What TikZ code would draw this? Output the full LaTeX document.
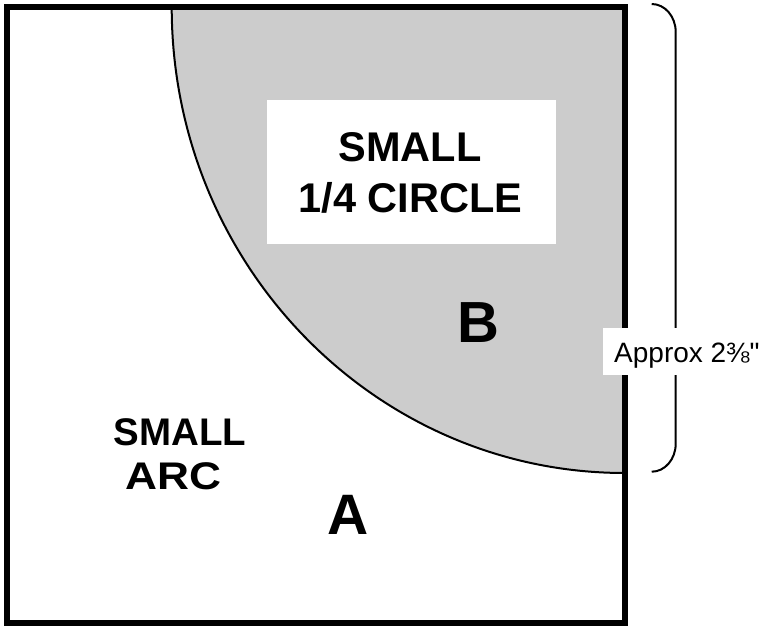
\documentclass[tikz,border=0pt]{standalone}
\usepackage{fontspec}
\setmainfont{Liberation Sans}
\definecolor{qgray}{HTML}{CCCCCC}
\tikzset{
  bigbold/.style={font=\fontsize{#1}{#1}\selectfont\bfseries, inner sep=0pt, anchor=base},
  whitebox/.style={fill=white, draw=none},
}
\begin{document}
\begin{tikzpicture}[x=1pt,y=-1pt]
\useasboundingbox (0,0) rectangle (759,626);
% quarter ellipse
\begin{scope}
  \clip (7,7) rectangle (624.7,623);
  \fill[qgray] (624.7,7) ellipse [x radius=453, y radius=466];
  \draw[line width=2pt] (624.7,7) ellipse [x radius=453, y radius=466];
\end{scope}
% white label box inside
\node[whitebox, minimum width=289pt, minimum height=144pt, inner sep=0pt] (box) at (411.5,172) {};
\node[bigbold=41.5] (t1) at (410,161.5) {SMALL};
\node[bigbold=41.5] (t2) at (410.5,212.5) {1/4 CIRCLE};
\node[bigbold=58] (b) at (478,342.3) {B};
\node[bigbold=38.5] (s1) at (180,445) {SMALL};
\node[bigbold=38.5] (s2) at (173.4,489) {\scalebox{1.15}[1]{ARC}};
\node[bigbold=57] (a) at (348,534) {A};
% square border
\draw[line width=6pt] (7,7) rectangle (624.7,623);
% bracket
\draw[line width=2pt] (651.7,4) arc[start angle=-90, end angle=0, x radius=24, y radius=28]
  -- (675.7,443.7) arc[start angle=0, end angle=90, x radius=24, y radius=28];
% dimension label
\node[whitebox, minimum width=156pt, minimum height=47pt, inner sep=0pt] (lblbox) at (681,351.5) {};
\node[font=\fontsize{28}{28}\selectfont, inner sep=0pt, anchor=base west] (lbl) at (614,362) {Approx 2⅜\textquotedbl};
\end{tikzpicture}
\end{document}
